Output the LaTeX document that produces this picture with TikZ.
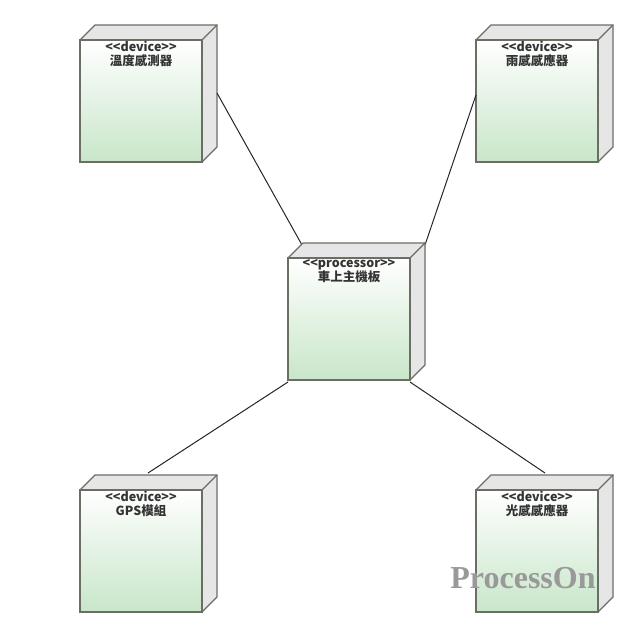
\documentclass[tikz,border=0pt]{standalone}
\usepackage{fontspec}
\setmainfont{Noto Sans CJK TC}
\begin{document}
\begin{tikzpicture}[x=1pt,y=-1pt,
  edge/.style={draw=black!85,line width=1pt}]
\definecolor{bord}{HTML}{6B6E63}
\definecolor{gtop}{HTML}{FFFFFF}
\definecolor{gbot}{HTML}{C8E6C9}
\definecolor{side}{HTML}{E6E6E6}
\useasboundingbox (0,0) rectangle (638,637);
\newcommand{\devbox}[5]{% name, x, y, stereo, label
  \fill[side,draw=bord,line width=1.4pt] (#2,#3) -- ++(15,-15) -- ++(122,0) -- ++(0,122) -- ++(-15,15) -- cycle;
  \draw[bord,line width=1.4pt] (#2+122,#3) -- ++(15,-15);
  \shade[top color=gtop,bottom color=gbot,draw=bord,line width=1.4pt] (#2,#3) rectangle ++(122,122);
  \node[font=\fontsize{12.5}{15}\selectfont\bfseries,text=black!80,align=center,anchor=north,inner sep=0pt] (#1) at (#2+61,#3+1) {#4\\[-1pt]#5};
  \coordinate (#1-c) at (#2+61,#3+61);
}
\devbox{tl}{80}{40}{<{}<device>{}>}{溫度感測器}
\devbox{tr}{476}{40}{<{}<device>{}>}{雨感感應器}
\devbox{bl}{80}{490}{<{}<device>{}>}{GPS模組}
\devbox{br}{476}{490}{<{}<device>{}>}{光感感應器}
\coordinate (a1) at (217,93); \coordinate (a2) at (302,245);
\coordinate (b1) at (476,95); \coordinate (b2) at (425,245);
\coordinate (c1) at (148,473); \coordinate (c2) at (288,382);
\coordinate (d1) at (545,473); \coordinate (d2) at (410,382);
\draw[edge] (a1) -- (a2);
\draw[edge] (b1) -- (b2);
\draw[edge] (c1) -- (c2);
\draw[edge] (d1) -- (d2);
\devbox{mid}{288}{258}{<{}<processor>{}>}{車上主機板}
\node[font=\fontsize{32}{32}\selectfont\bfseries\fontspec{Liberation Serif},text=black!40] (wm) at (523,578) {ProcessOn};
\end{tikzpicture}
\end{document}
